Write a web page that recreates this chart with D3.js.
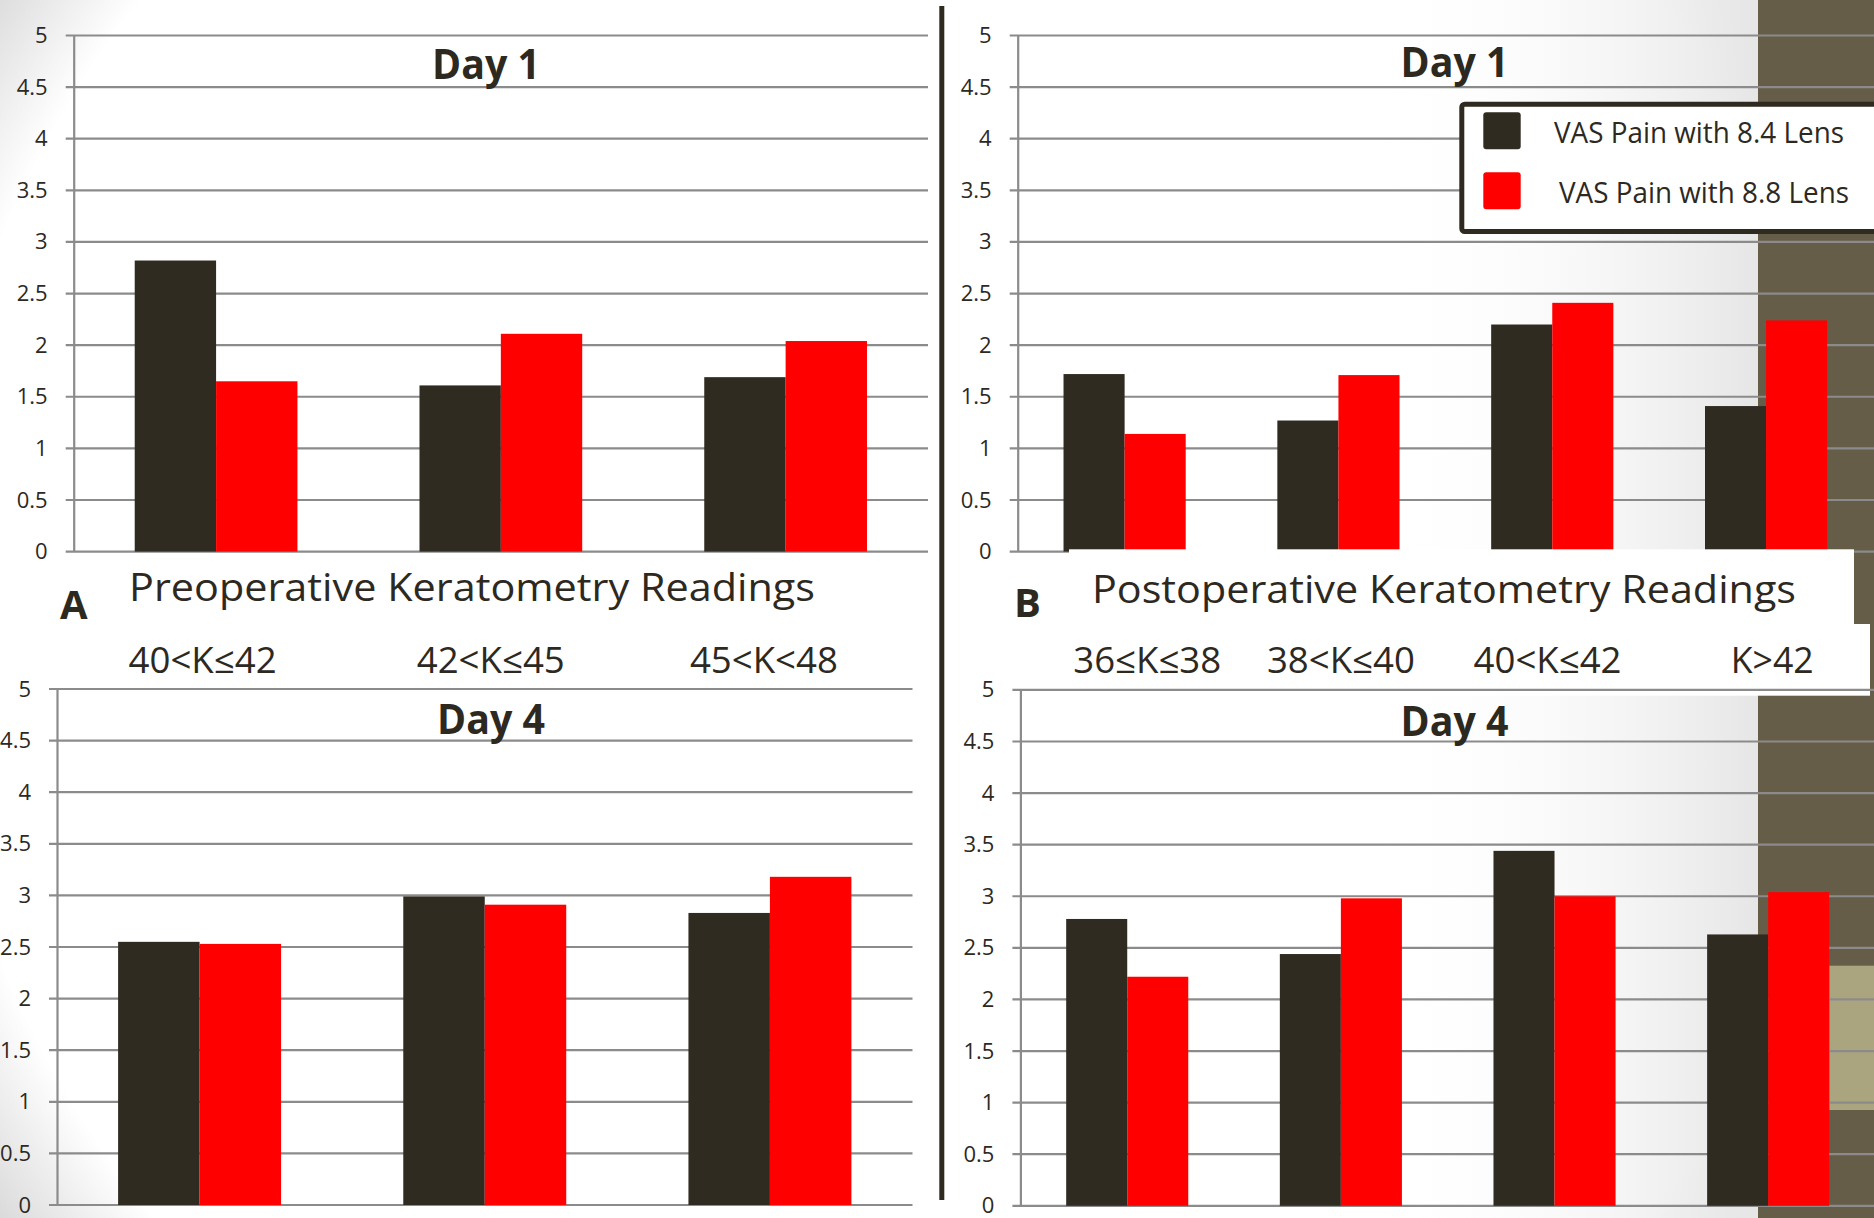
<!DOCTYPE html>
<html><head><meta charset="utf-8">
<script src="https://cdn.jsdelivr.net/npm/d3@7"></script>
<style>
html,body{margin:0;padding:0;background:#fff;overflow:hidden}
svg{display:block}
text{font-family:'Open Sans','Noto Sans','DejaVu Sans',sans-serif;fill:#2d291f}
</style>
</head><body>
<svg id="c" width="1874" height="1218"></svg>
<script>
// ---------------- data ----------------
const seriesNames = ["VAS Pain with 8.4 Lens", "VAS Pain with 8.8 Lens"];
const categoriesPre = ["40<K≤42", "42<K≤45", "45<K<48"];
const categoriesPost = ["36≤K≤38", "38<K≤40", "40<K≤42", "K>42"];
const yTicks = [0, 0.5, 1, 1.5, 2, 2.5, 3, 3.5, 4, 4.5, 5];
const preDay1Lens84 = [2.82, 1.61, 1.69];
const preDay1Lens88 = [1.65, 2.11, 2.04];
const preDay4Lens84 = [2.55, 2.99, 2.83];
const preDay4Lens88 = [2.53, 2.91, 3.18];
const postDay1Lens84 = [1.72, 1.27, 2.20, 1.41];
const postDay1Lens88 = [1.14, 1.71, 2.41, 2.24];
const postDay4Lens84 = [2.78, 2.44, 3.44, 2.63];
const postDay4Lens88 = [2.22, 2.98, 3.00, 3.04];
const panelTitles = ["Day 1", "Day 4"];
const axisTitles = ["Preoperative Keratometry Readings", "Postoperative Keratometry Readings"];
const panelLetters = ["A", "B"];

// ---------------- style ----------------
const colors = ["#302b21", "#ff0000"];
const gridColor = "#8b8b8b";
const textColor = "#2d291f";

const svg = d3.select("#c");
const defs = svg.append("defs");

// background gradients
const rg = defs.append("radialGradient").attr("id", "bgR").attr("gradientUnits", "userSpaceOnUse")
  .attr("cx", 900).attr("cy", 600).attr("r", 1100);
rg.append("stop").attr("offset", 0).attr("stop-color", "#ffffff");
rg.append("stop").attr("offset", 0.88).attr("stop-color", "#ffffff");
rg.append("stop").attr("offset", 1).attr("stop-color", "#d8d8d8");
const lg = defs.append("linearGradient").attr("id", "bgL").attr("gradientUnits", "userSpaceOnUse")
  .attr("x1", 1380).attr("x2", 1758).attr("y1", 0).attr("y2", 0);
lg.append("stop").attr("offset", 0).attr("stop-color", "#ffffff").attr("stop-opacity", 0);
lg.append("stop").attr("offset", 1).attr("stop-color", "#e6e6e6").attr("stop-opacity", 1);

svg.append("rect").attr("width", 1874).attr("height", 1218).attr("fill", "url(#bgR)");
svg.append("rect").attr("x", 1380).attr("width", 378).attr("height", 1218).attr("fill", "url(#bgL)");
svg.append("rect").attr("x", 1758).attr("width", 116).attr("height", 1218).attr("fill", "#665d48");
svg.append("rect").attr("x", 1829.3).attr("y", 965.7).attr("width", 45).attr("height", 144.3).attr("fill", "#aaa57f");

// ---------------- layout ----------------
const panels = {
  A1: {left: 73.7, right: 928, top: 35.5, bottom: 551.6, gridEnd: 928, cats: categoriesPre,
       values: [preDay1Lens84, preDay1Lens88], title: panelTitles[0], titleX: 486, titleY: 79},
  B1: {left: 1017.7, right: 1873, top: 35.5, bottom: 551.6, gridEnd: 1874, cats: categoriesPost,
       values: [postDay1Lens84, postDay1Lens88], title: panelTitles[0], titleX: 1454.5, titleY: 77},
  A4: {left: 57, right: 912.5, top: 689, bottom: 1205, gridEnd: 912.5, cats: categoriesPre,
       values: [preDay4Lens84, preDay4Lens88], title: panelTitles[1], titleX: 491, titleY: 734},
  B4: {left: 1020.4, right: 1875, top: 689.9, bottom: 1205.8, gridEnd: 1874, cats: categoriesPost,
       values: [postDay4Lens84, postDay4Lens88], title: panelTitles[1], titleX: 1454.6, titleY: 736}
};

function drawChart(cfg) {
  const g = svg.append("g");
  const y = d3.scaleLinear().domain([0, 5]).range([cfg.bottom, cfg.top]);
  const x0 = d3.scaleBand().domain(cfg.cats).range([cfg.left, cfg.right]);
  const x1 = d3.scaleBand().domain(seriesNames).range([0, x0.bandwidth()]).paddingInner(0).paddingOuter(0.75);
  cfg.x0 = x0;
  g.selectAll("line.grid").data(yTicks).join("line").attr("class", "grid")
    .attr("x1", cfg.left - 8).attr("x2", cfg.gridEnd)
    .attr("y1", d => y(d)).attr("y2", d => y(d))
    .attr("stroke", gridColor).attr("stroke-width", 2.2);
  const ax = g.append("g").attr("transform", `translate(${cfg.left},0)`)
    .call(d3.axisLeft(y).tickValues(yTicks).tickSize(0).tickSizeOuter(0).tickPadding(26).tickFormat(d3.format("")));
  ax.select(".domain").attr("stroke", gridColor).attr("stroke-width", 2.2);
  ax.selectAll("text").style("font-size", "22px").style("fill", textColor)
    .style("font-family", "'Open Sans','Noto Sans',sans-serif");
  seriesNames.forEach((s, si) => {
    g.selectAll(null).data(cfg.values[si]).join("rect")
      .attr("x", (d, i) => x0(cfg.cats[i]) + x1(s))
      .attr("width", x1.bandwidth())
      .attr("y", d => y(d))
      .attr("height", d => y(0) - y(d))
      .attr("fill", colors[si]);
  });
  return g;
}

function addText(str, x, y, size, opts = {}) {
  const t = svg.append("text").attr("x", x).attr("y", y).text(str)
    .style("font-size", size + "px")
    .attr("text-anchor", opts.anchor || "start")
    .style("font-weight", opts.bold ? 700 : 400);
  if (opts.len) t.attr("textLength", opts.len).attr("lengthAdjust", "spacingAndGlyphs");
  return t;
}

// upper charts
drawChart(panels.A1);
drawChart(panels.B1);

// divider
svg.append("rect").attr("x", 939.3).attr("y", 6).attr("width", 5).attr("height", 1194).attr("fill", "#2f2a20");

// white label boxes on panel B
svg.append("rect").attr("x", 1069).attr("y", 549.3).attr("width", 785).attr("height", 75).attr("fill", "#fff");
svg.append("rect").attr("x", 1067).attr("y", 624).attr("width", 803).attr("height", 71.7).attr("fill", "#fff");

// lower charts
drawChart(panels.A4);
drawChart(panels.B4);

// axis titles and letters
addText(axisTitles[0], 129, 601, 39, {len: 686});
addText(axisTitles[1], 1092, 603.3, 39, {len: 704});
addText(panelLetters[0], 60, 619, 40, {bold: true});
addText(panelLetters[1], 1014, 617, 40, {bold: true});

// category labels (between upper and lower charts)
const nudgeA = [3, 6, -6];
const nudgeB = [20, 0, -7, 4];
categoriesPre.forEach((c, i) => {
  const x = panels.A4.x0(c) + panels.A4.x0.bandwidth() / 2 + nudgeA[i];
  addText(c, x, 673, 36, {anchor: "middle", len: 148});
});
categoriesPost.forEach((c, i) => {
  const x = panels.B4.x0(c) + panels.B4.x0.bandwidth() / 2 + nudgeB[i];
  addText(c, x, 673, 36, {anchor: "middle", len: c.length > 4 ? 148 : 83});
});

// panel titles
Object.values(panels).forEach(p => addText(p.title, p.titleX, p.titleY, 42, {anchor: "middle", bold: true, len: 108}));

// legend
const lgG = svg.append("g");
lgG.append("rect").attr("x", 1461.8).attr("y", 104.2).attr("width", 430).attr("height", 127.3)
  .attr("rx", 3).attr("fill", "#fff").attr("stroke", "#2f2a20").attr("stroke-width", 5);
const legY = d3.scalePoint().domain(seriesNames).range([112.3, 172.3]);
seriesNames.forEach((s, i) => {
  lgG.append("rect").attr("x", 1483.3).attr("y", legY(s)).attr("width", 37.4).attr("height", 37)
    .attr("rx", 3).attr("fill", colors[i]);
  lgG.append("text").attr("x", 1554 + i * 5).attr("y", legY(s) + 30.4).text(s)
    .style("font-size", "29px").attr("textLength", 290).attr("lengthAdjust", "spacingAndGlyphs");
});
</script>
</body></html>
